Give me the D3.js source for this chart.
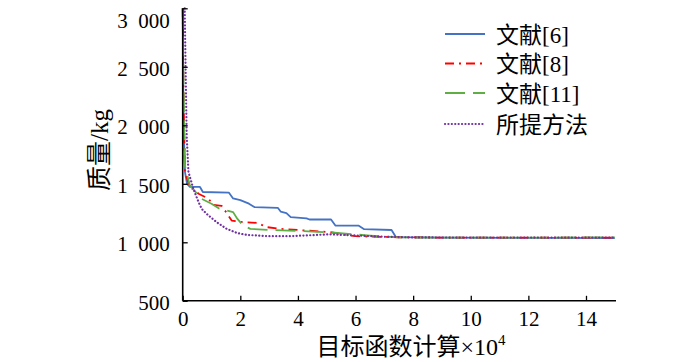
<!DOCTYPE html>
<html>
<head>
<meta charset="utf-8">
<script src="https://cdn.jsdelivr.net/npm/d3@7"></script>
<style>
  body { margin: 0; background: #fff; }
  svg { display: block; font-family: "Liberation Serif", "Noto Sans CJK SC", serif; }
</style>
</head>
<body>
<svg id="drawarea"></svg>
<script>
// x: 目标函数计算 (×10^4), y: 质量/kg
var xTicks = [0, 2, 4, 6, 8, 10, 12, 14];
var yTicks = [500, 1000, 1500, 2000, 2500, 3000];
var seriesNames = ["文献[6]", "文献[8]", "文献[11]", "所提方法"];

var ref6X = [0, 0.03, 0.08, 0.15, 0.25, 0.6, 0.7, 1.6, 1.75, 2.0, 2.3, 2.5, 3.3, 3.4, 3.6, 3.75, 4.3, 4.4, 5.15, 5.3, 6.1, 6.3, 7.25, 7.4, 9, 12, 15];
var ref6Y = [3000, 2000, 1600, 1500, 1473, 1473, 1430, 1425, 1375, 1360, 1330, 1300, 1295, 1263, 1250, 1215, 1205, 1195, 1195, 1143, 1143, 1112, 1105, 1045, 1040, 1038, 1035];

var ref8X = [0, 0.03, 0.08, 0.25, 0.45, 0.55, 0.9, 1.05, 1.35, 1.5, 1.7, 2.1, 2.6, 2.9, 3.4, 5.1, 6, 7.5, 9, 12, 15];
var ref8Y = [3000, 2200, 1600, 1470, 1440, 1415, 1372, 1320, 1312, 1260, 1186, 1172, 1166, 1130, 1115, 1087, 1052, 1043, 1040, 1040, 1040];

var ref11X = [0, 0.03, 0.08, 0.25, 0.45, 0.65, 1.0, 1.25, 1.75, 1.9, 2.1, 2.35, 3, 4.2, 5.1, 6.5, 7.5, 9, 12, 15];
var ref11Y = [3000, 2300, 1650, 1486, 1430, 1372, 1330, 1290, 1258, 1200, 1143, 1115, 1106, 1095, 1085, 1057, 1042, 1040, 1040, 1042];

var propX = [0.07, 0.1, 0.14, 0.2, 0.37, 0.55, 0.66, 0.83, 1.18, 1.53, 1.88, 2.23, 3.0, 3.7, 4.4, 5.1, 6, 7, 8, 10, 15];
var propY = [3000, 2500, 1900, 1601, 1458, 1344, 1286, 1243, 1172, 1115, 1080, 1063, 1052, 1052, 1060, 1068, 1058, 1047, 1042, 1040, 1040];

function toPoints(xs, ys){
    return xs.map(function(x, i){ return [x, ys[i]]; });
}

var series = [
    {name: seriesNames[0], pts: toPoints(ref6X, ref6Y), color: "#4472c4", dash: null, cap: "butt"},
    {name: seriesNames[1], pts: toPoints(ref8X, ref8Y), color: "#ff0000", dash: "9,5,2,5", cap: "butt"},
    {name: seriesNames[2], pts: toPoints(ref11X, ref11Y), color: "#5fae45", dash: "20,8", cap: "butt"},
    {name: seriesNames[3], pts: toPoints(propX, propY), color: "#7030a0", dash: "0.1,3.3", cap: "round"}
];

var svg = d3.select("#drawarea").attr("width", 700).attr("height", 362);

var x = d3.scaleLinear().domain([0, 15]).range([182.7, 614.8]);
var y = d3.scaleLinear().domain([500, 3000]).range([300.8, 8.3]);

var fmt = function(d){ return d3.format(",")(d).replace(",", "\u2002"); };

// 曲线
var line = d3.line()
    .x(function(d){ return x(d[0]); })
    .y(function(d){ return y(d[1]); });

series.forEach(function(s){
    svg.append("path")
        .datum(s.pts)
        .attr("d", line)
        .attr("fill", "none")
        .attr("stroke", s.color)
        .attr("stroke-width", s.cap == "round" ? 2.2 : 1.8)
        .attr("stroke-linecap", s.cap)
        .attr("stroke-linejoin", "round")
        .attr("stroke-dasharray", s.dash);
});

// 坐标轴
var gx = svg.append("g")
    .attr("transform", "translate(0," + y(500) + ")")
    .call(d3.axisBottom(x).tickValues(xTicks).tickSizeInner(-5).tickSizeOuter(0).tickPadding(10));
var gy = svg.append("g")
    .attr("transform", "translate(" + x(0) + ",0)")
    .call(d3.axisLeft(y).tickValues(yTicks).tickFormat(fmt).tickSizeInner(-5).tickSizeOuter(0).tickPadding(13));

[gx, gy].forEach(function(g){
    g.select(".domain").attr("stroke", "#000").attr("stroke-width", 1.6);
    g.selectAll(".tick line").attr("stroke", "#000").attr("stroke-width", 1.3);
    g.selectAll(".tick text")
        .attr("fill", "#000")
        .style("font-family", "'Liberation Serif', serif")
        .style("font-size", "21px");
});
gy.selectAll(".tick text").attr("dy", function(d){ return d == 3000 ? "0.9em" : "0.4em"; });
gy.select(".domain").attr("d", "M0," + y(3000) + "V" + y(500));
gx.select(".domain").attr("d", "M" + x(0) + ",0H616");

// 轴标题
svg.append("text")
    .attr("transform", "translate(99,150) rotate(-90)")
    .attr("text-anchor", "middle")
    .attr("dominant-baseline", "central")
    .style("font-size", "25px")
    .text("质量/kg");

var xt = svg.append("text")
    .attr("x", 411)
    .attr("y", 355)
    .attr("text-anchor", "middle")
    .style("font-size", "24px");
xt.append("tspan").text("目标函数计算×10");
xt.append("tspan").attr("dy", -10).style("font-size", "15px").text("4");

// 图例
var legendY = [34, 63.5, 93, 124];
var legend = svg.append("g");
series.forEach(function(s, i){
    var yy = legendY[i];
    legend.append("line")
        .attr("x1", 445).attr("x2", 485)
        .attr("y1", yy).attr("y2", yy)
        .attr("stroke", s.color)
        .attr("stroke-width", s.cap == "round" ? 2.2 : 1.8)
        .attr("stroke-linecap", s.cap)
        .attr("stroke-dasharray", s.dash);
    legend.append("text")
        .attr("x", 496)
        .attr("y", yy + 1)
        .attr("dominant-baseline", "central")
        .style("font-size", "23px")
        .text(s.name);
});
</script>
</body>
</html>
